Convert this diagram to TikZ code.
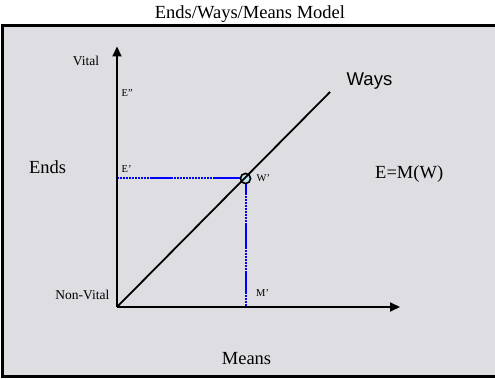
\documentclass[tikz,border=0pt]{standalone}
\usepackage{fontspec}
\setmainfont{Liberation Serif}
\newfontfamily\waysfont{Liberation Sans}
\usetikzlibrary{arrows.meta,calc}
\definecolor{panel}{RGB}{222,221,226}
\definecolor{knob}{RGB}{190,228,240}
\tikzset{
  big/.style={font=\fontsize{18.5}{22}\selectfont, inner sep=0pt},
  small/.style={font=\fontsize{13.5}{16}\selectfont, inner sep=0pt},
  tiny/.style={font=\fontsize{10.5}{12}\selectfont, inner sep=0pt},
  axisline/.style={line width=2pt, -{Triangle[length=10pt,width=9pt]}},
  guide/.style={draw=blue, line width=2pt, dash pattern=on 1.5pt off 1.5pt},
  guidesolid/.style={draw=blue, line width=2pt},
  waysline/.style={line width=1.8pt},
  knobstyle/.style={circle, draw, line width=1.5pt, fill=knob, inner sep=0pt, minimum size=10pt}
}
\begin{document}
\begin{tikzpicture}[x=1pt,y=-1pt]
\useasboundingbox (0,0) rectangle (495,379);
% frame
\draw[line width=3pt, fill=panel] (2.5,25.5) rectangle (499,376.5);
% title
\node[big, anchor=base] (title) at (250,19) {Ends/Ways/Means Model};
% coordinates
\coordinate (O) at (117,307);
\coordinate (Vtop) at (117,46.5);
\coordinate (Htip) at (400,307);
\coordinate (Wend) at (330,92);
\coordinate (E1) at (117,178.5);
\coordinate (M1) at (245.5,307);
\node[knobstyle] (W) at (245.5,178.5) {};
% guides
\draw[guide] (E1) -- (W.west);
\draw[guidesolid] ($(E1)+(35,0)$) -- ++(21,0);
\draw[guidesolid] ($(E1)+(96,0)$) -- (W.west);
\draw[guide] (W.south) -- (M1);
\draw[guidesolid] (W.south) -- ++(0,9);
\draw[guidesolid] ($(W.south)+(0,40)$) -- ++(0,25);
\draw[guidesolid] ($(W.south)+(0,87)$) -- ++(0,23);
% axes
\draw[axisline] (O) -- (Vtop);
\draw[axisline] (O) -- (Htip);
% knob and ways line
\node[knobstyle] at (W) {};
\draw[waysline] (O) -- (Wend);
% labels
\node[small, anchor=base] (vital) at (86,66) {Vital};
\node[small, anchor=base east] (nonvital) at (109.5,299) {Non-Vital};
\node[tiny, anchor=base west] (e2) at (121.5,97) {E”};
\node[tiny, anchor=base west] (e1) at (121.5,172.5) {E’};
\node[tiny, anchor=base west] (w1) at (256.5,181.5) {W’};
\node[tiny, anchor=base west] (m1) at (256,296.5) {M’};
\node[big, anchor=base] (ends) at (47.5,174) {Ends};
\node[big, anchor=base west] (emw) at (375,179) {E=M(W)};
\node[big, anchor=base] (means) at (246.5,364) {Means};
\node[inner sep=0pt, anchor=base west, font=\waysfont\fontsize{18.5}{22}\selectfont] (ways) at (346.5,86) {Ways};
\end{tikzpicture}
\end{document}
